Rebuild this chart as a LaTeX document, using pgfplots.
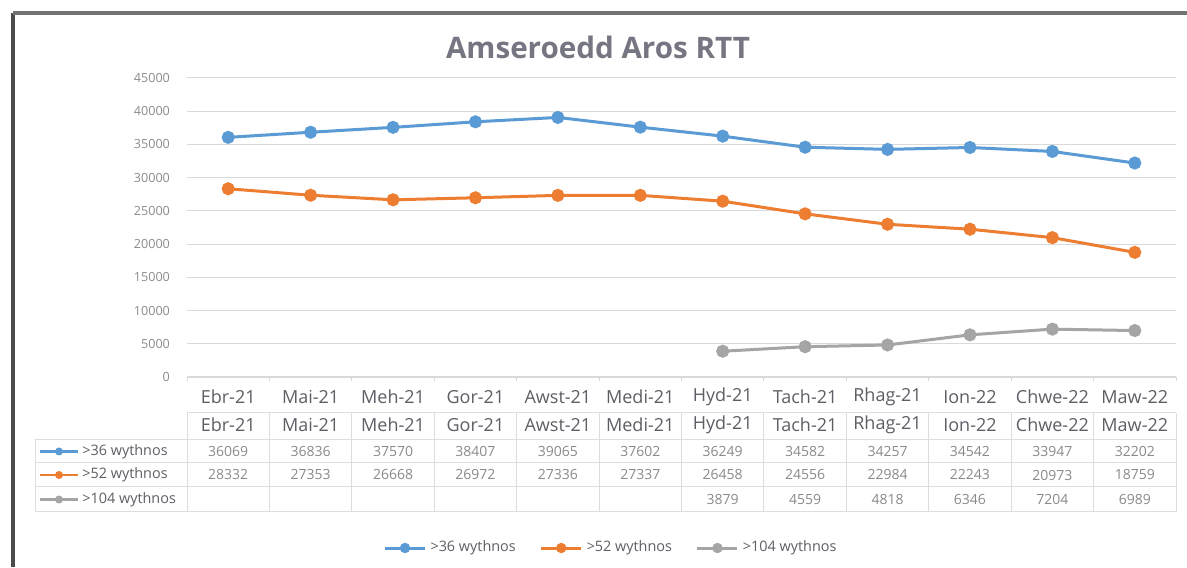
\documentclass[border=0pt]{standalone}
\usepackage{pgfplots}
\usepackage{pgfplotstable}
\pgfplotsset{compat=1.18}
\usepackage{fontspec}
\setmainfont{Open Sans}
\definecolor{cblue}{HTML}{5B9BD5}
\definecolor{corange}{HTML}{ED7D31}
\definecolor{cgray}{HTML}{A5A5A5}
\definecolor{gridc}{HTML}{D9D9D9}
\definecolor{tickc}{HTML}{8C8C8C}
\definecolor{labc}{HTML}{5E5E66}
\definecolor{titlec}{HTML}{767682}
\definecolor{tabc}{HTML}{DDDDDD}
\definecolor{numc}{HTML}{8A8A8A}

\pgfplotstableread{
x a b lab
0 36069 28332 Ebr-21
1 36836 27353 Mai-21
2 37570 26668 Meh-21
3 38407 26972 Gor-21
4 39065 27336 Awst-21
5 37602 27337 Medi-21
6 36249 26458 Hyd-21
7 34582 24556 Tach-21
8 34257 22984 Rhag-21
9 34542 22243 Ion-22
10 33947 20973 Chwe-22
11 32202 18759 Maw-22
}\dataAB
\pgfplotstableread{
x c
6 3879
7 4559
8 4818
9 6346
10 7204
11 6989
}\dataC

\begin{document}
\begin{tikzpicture}
\path[fill=white, use as bounding box] (0,0) rectangle (593.5pt,283.5pt);
% frame
\draw[line width=2pt, color=black!70] (6.5pt,0) -- (6.5pt,277pt);
\draw[line width=1.8pt, color=black!55] (6.5pt,277pt) -- (593.5pt,277pt);
% title
\node[font=\bfseries\fontsize{14.8}{17}\selectfont, text=titlec] at (299pt,260pt) {Amseroedd Aros RTT};

% table grid
\draw[tabc, line width=0.5pt] (93.5pt,77pt) -- (588pt,77pt);
\foreach \yy in {63.5,52,40,27.5}
  \draw[tabc, line width=0.5pt] (17.5pt,\yy pt) -- (588pt,\yy pt);
\draw[tabc, line width=0.5pt] (17.5pt,63.5pt) -- (17.5pt,27.5pt);
\foreach \k in {0,...,12}
  \draw[tabc, line width=0.5pt] ({(93.5+\k*41.2083)*1pt},77pt) -- ({(93.5+\k*41.2083)*1pt},27.5pt);
% axis tick marks at category boundaries
\foreach \k in {0,...,12}
  \draw[gridc, line width=0.5pt] ({(93.5+\k*41.2083)*1pt},95pt) -- ({(93.5+\k*41.2083)*1pt},93pt);
\draw[gridc, line width=0.6pt] (93.5pt,95pt) -- (588pt,95pt);

% row keys
\draw[cblue, line width=1.3pt] (20pt,57.75pt) -- (39pt,57.75pt);
\fill[cblue] (29.5pt,57.75pt) circle (2pt);
\draw[corange, line width=1.3pt] (20pt,46pt) -- (39pt,46pt);
\fill[corange] (29.5pt,46pt) circle (2pt);
\draw[cgray, line width=1.3pt] (20pt,33.75pt) -- (39pt,33.75pt);
\fill[cgray] (29.5pt,33.75pt) circle (2pt);
\node[anchor=west, inner sep=0pt, font=\fontsize{7.2}{8}\selectfont, text=labc] at (41pt,57.75pt) {>36 wythnos};
\node[anchor=west, inner sep=0pt, font=\fontsize{7.2}{8}\selectfont, text=labc] at (41pt,46pt) {>52 wythnos};
\node[anchor=west, inner sep=0pt, font=\fontsize{7.2}{8}\selectfont, text=labc] at (41pt,33.75pt) {>104 wythnos};

\begin{axis}[
  at={(93.5pt,95pt)}, anchor=south west,
  scale only axis, width=494.5pt, height=149.5pt,
  xmin=-0.5, xmax=11.5, ymin=0, ymax=45000,
  clip=false,
  axis line style={draw=none},
  ytick={0,5000,...,45000},
  scaled y ticks=false,
  ymajorgrids, grid style={gridc, line width=0.5pt},
  tick style={draw=none},
  /pgf/number format/1000 sep={},
  /pgf/number format/assume math mode=true,
  yticklabel style={font=\fontsize{6.3}{7}\selectfont, text=tickc, xshift=-5pt},
  xtick={0,...,11},
  xticklabels from table={\dataAB}{lab},
  xticklabel style={font=\fontsize{9}{10}\selectfont, text=labc, anchor=center, yshift=-10pt},
  legend style={at={(rel axis cs:0.4297,-0.572)}, anchor=center, draw=none, fill=none,
     font=\fontsize{7.2}{8}\selectfont, text=labc,
     /tikz/every even column/.append style={column sep=10pt}},
  legend columns=3,
  legend image code/.code={\draw[mark repeat=2,mark phase=2,mark size=1.8pt] plot coordinates {(0pt,0pt)(10pt,0pt)(20pt,0pt)};},
  every axis plot/.append style={line width=1.5pt},
]
\addplot[cblue, mark=*, mark size=2.5pt] table[x=x, y=a] {\dataAB};
\addlegendentry{>36 wythnos}
\addplot[corange, mark=*, mark size=2.5pt] table[x=x, y=b] {\dataAB};
\addlegendentry{>52 wythnos}
\addplot[cgray, mark=*, mark size=2.5pt] table[x=x, y=c] {\dataC};
\addlegendentry{>104 wythnos}

% data table text
\addplot[forget plot, draw=none, mark=none, nodes near coords, point meta=explicit symbolic,
  every node near coord/.append style={anchor=center, font=\fontsize{9}{10}\selectfont, text=labc}]
  table[x=x, y expr=-7224, meta=lab] {\dataAB};
\addplot[forget plot, draw=none, mark=none, nodes near coords, point meta=explicit symbolic,
  every node near coord/.append style={anchor=center, font=\fontsize{7}{8}\selectfont, text=numc}]
  table[x=x, y expr=-11212, meta=a] {\dataAB};
\addplot[forget plot, draw=none, mark=none, nodes near coords, point meta=explicit symbolic,
  every node near coord/.append style={anchor=center, font=\fontsize{7}{8}\selectfont, text=numc}]
  table[x=x, y expr=-14749, meta=b] {\dataAB};
\addplot[forget plot, draw=none, mark=none, nodes near coords, point meta=explicit symbolic,
  every node near coord/.append style={anchor=center, font=\fontsize{7}{8}\selectfont, text=numc}]
  table[x=x, y expr=-18437, meta=c] {\dataC};
\end{axis}
\end{tikzpicture}
\end{document}
